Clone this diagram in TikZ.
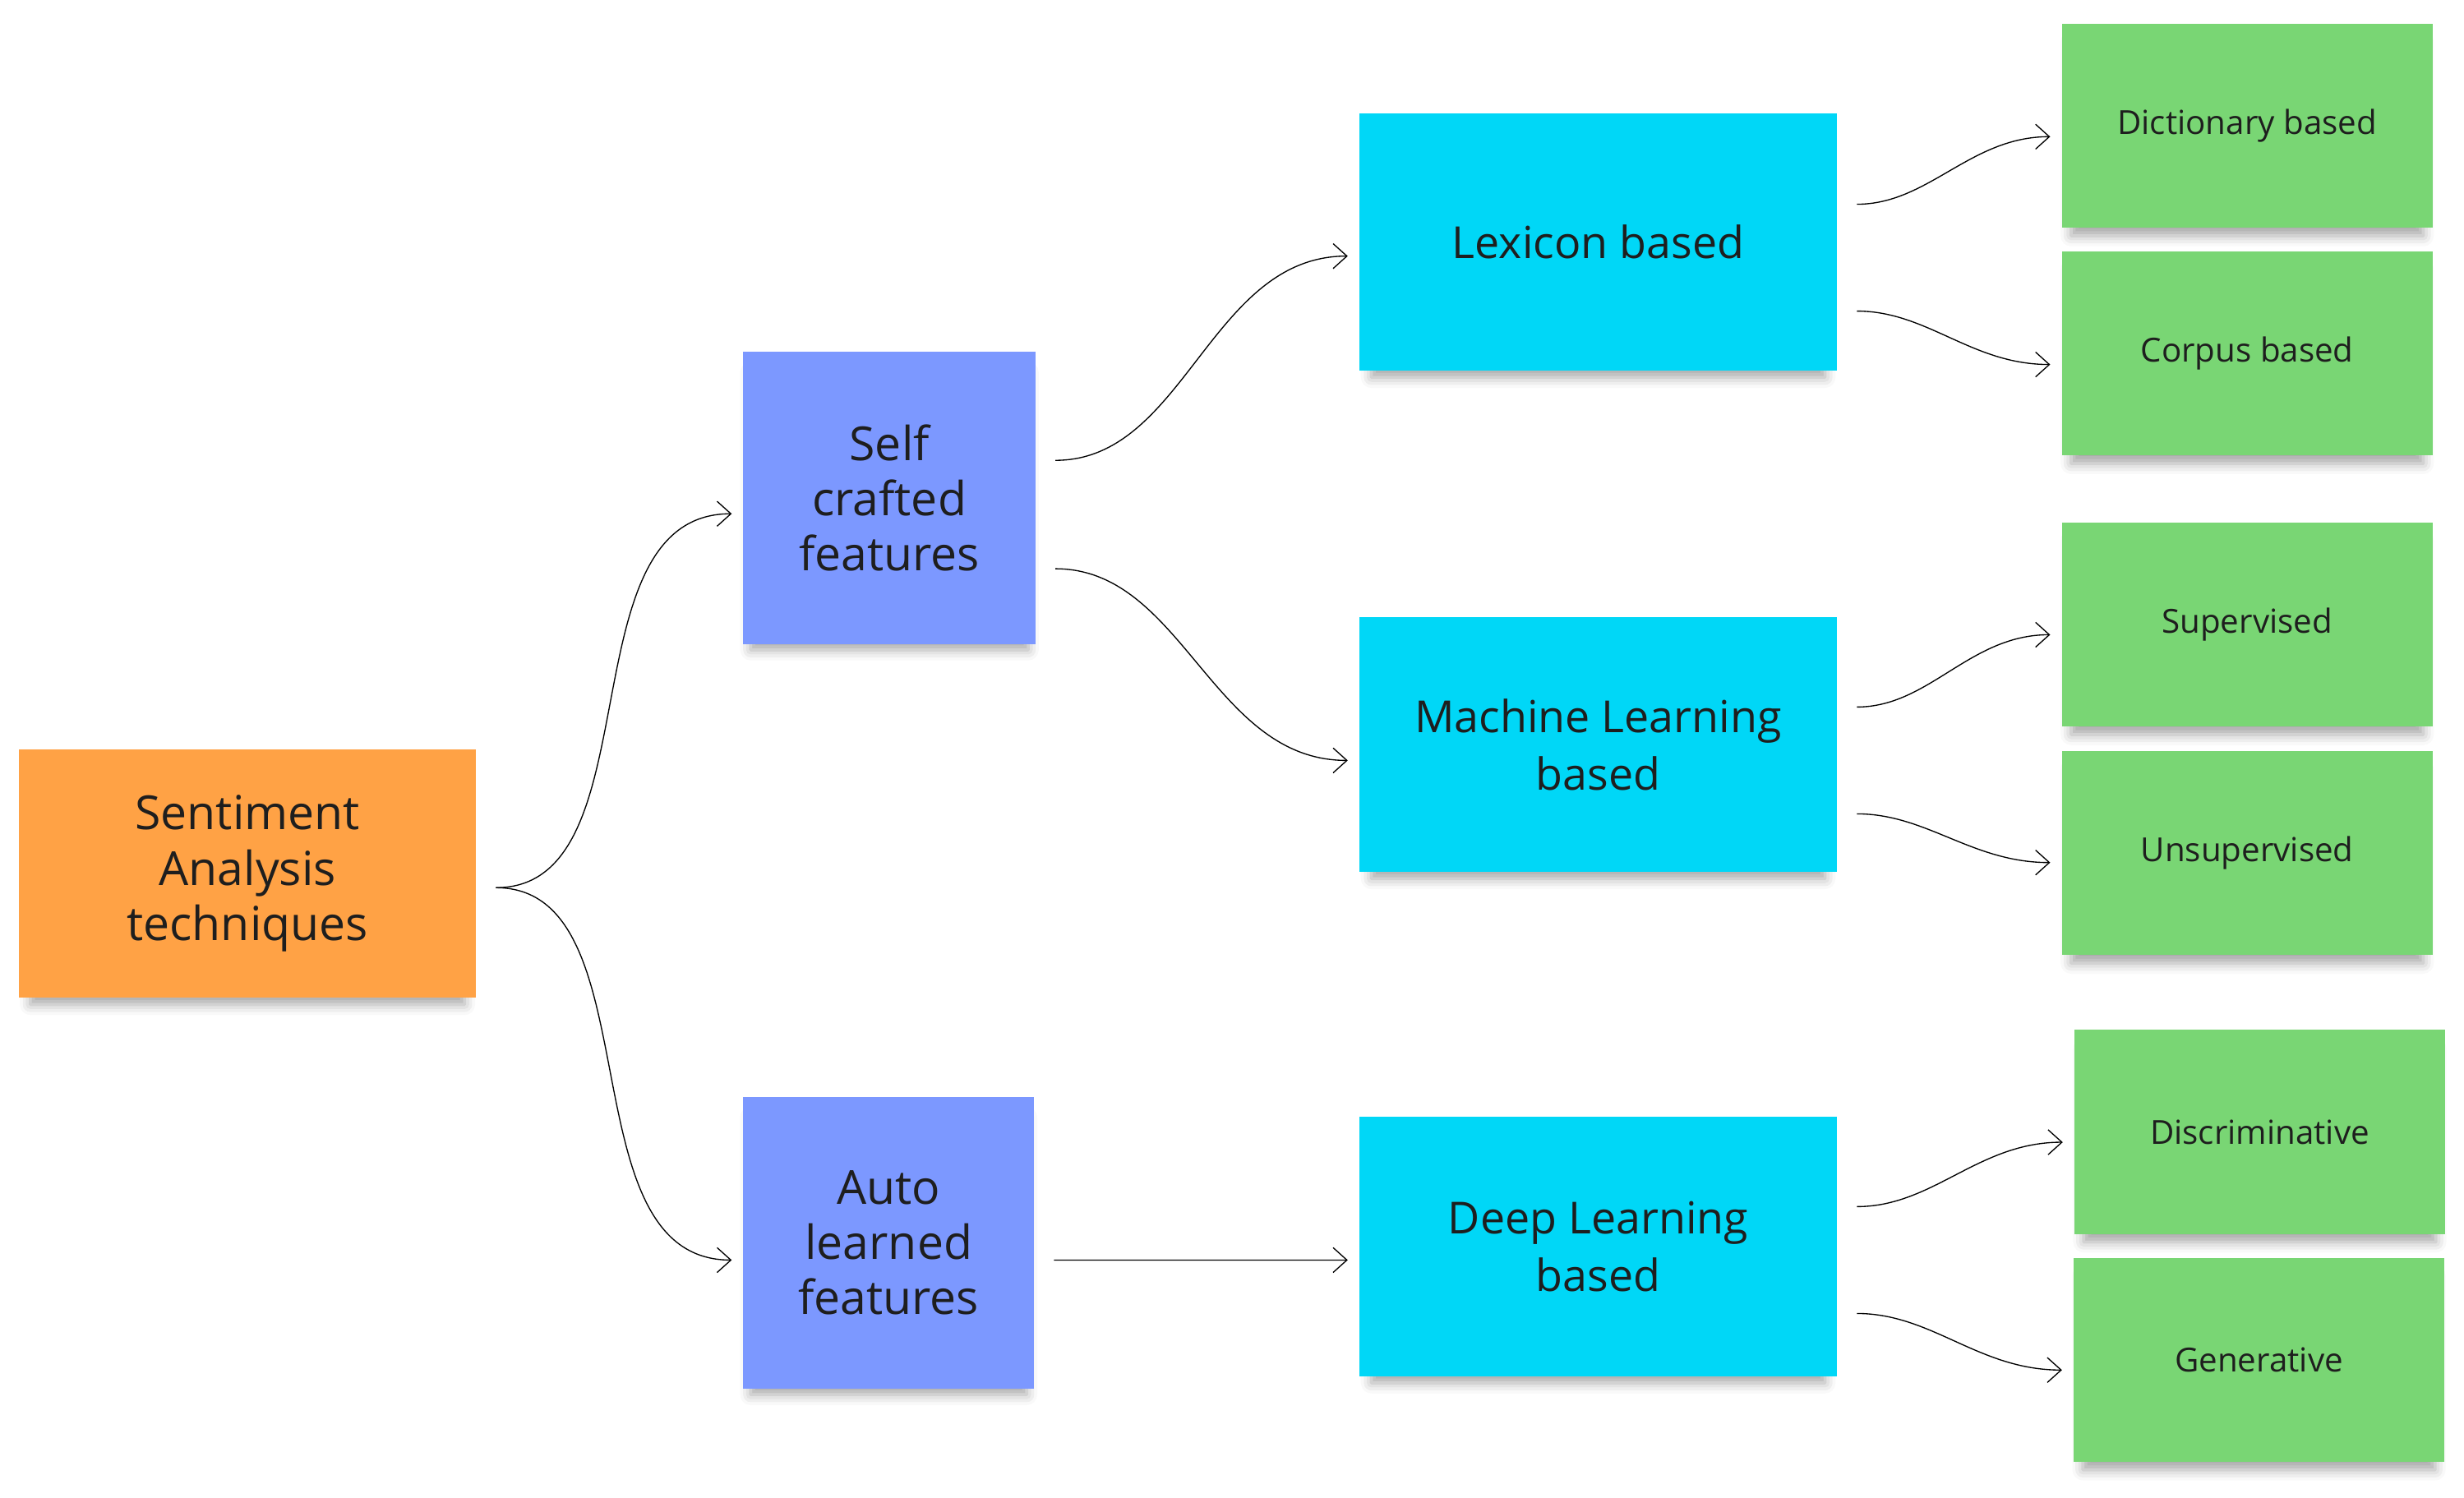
\documentclass[tikz,border=0pt]{standalone}
\usepackage{fontspec}
\setmainfont{Open Sans}
\usetikzlibrary{shadows.blur,arrows.meta}
\definecolor{org}{HTML}{FFA245}
\definecolor{vio}{HTML}{7C98FF}
\definecolor{cya}{HTML}{00D7F7}
\definecolor{grn}{HTML}{79D674}
\definecolor{txt}{HTML}{1E1E1E}
\begin{document}
\begin{tikzpicture}[x=0.02cm,y=-0.02cm,
 box/.style={inner sep=0pt,align=center,text=txt,blur shadow={shadow xshift=0pt,shadow yshift=-5pt,shadow blur radius=4pt,shadow opacity=35,shadow scale=0.95}},
 big/.style={box,font=\fontsize{17}{20}\selectfont},
 mid/.style={box,font=\fontsize{16}{21}\selectfont},
 sm/.style={box,fill=grn,minimum width=4.72cm,minimum height=2.6cm,font=\fontsize{12}{14}\selectfont},
 conn/.style={-{Straight Barb[length=5pt,width=9pt]},thin,black,shorten <=7pt,shorten >=4pt}]
\useasboundingbox (0,0) rectangle (1568,953);
\node[big,fill=org,minimum width=5.82cm,minimum height=3.16cm] (o) at (157.5,556) {Sentiment\\Analysis\\techniques};
\node[big,fill=vio,minimum width=3.72cm,minimum height=3.72cm] (s) at (566,317) {Self\\crafted\\features};
\node[big,fill=vio,minimum width=3.70cm,minimum height=3.72cm] (a) at (565.5,791) {Auto\\learned\\features};
\node[mid,fill=cya,minimum width=6.08cm,minimum height=3.28cm] (l) at (1017,154) {Lexicon based};
\node[mid,fill=cya,minimum width=6.08cm,minimum height=3.24cm] (m) at (1017,474) {Machine Learning\\based};
\node[mid,fill=cya,minimum width=6.08cm,minimum height=3.30cm] (d) at (1017,793.5) {Deep Learning\\based};
\node[sm] (g1) at (1430,80) {Dictionary based};
\node[sm] (g2) at (1430,225) {Corpus based};
\node[sm] (g3) at (1430,397.5) {Supervised};
\node[sm] (g4) at (1430,543) {Unsupervised};
\node[sm] (g5) at (1438,720.5) {Discriminative};
\node[sm] (g6) at (1437.5,865.5) {Generative};
\draw[conn] ([yshift=-9*0.02cm]o.east) to[out=0,in=180] ([yshift=-10*0.02cm]s.west);
\draw[conn] ([yshift=-9*0.02cm]o.east) to[out=0,in=180] ([yshift=-11*0.02cm]a.west);
\draw[conn] ([yshift=24*0.02cm]s.east) to[out=0,in=180] ([yshift=-9*0.02cm]l.west);
\draw[conn] ([yshift=-45*0.02cm]s.east) to[out=0,in=180] ([yshift=-10*0.02cm]m.west);
\draw[conn] ([yshift=-11*0.02cm]a.east) -- ([yshift=-8.5*0.02cm]d.west);
\draw[conn] ([yshift=24*0.02cm]l.east) to[out=0,in=180] ([yshift=-7*0.02cm]g1.west);
\draw[conn] ([yshift=-44*0.02cm]l.east) to[out=0,in=180] ([yshift=-7*0.02cm]g2.west);
\draw[conn] ([yshift=24*0.02cm]m.east) to[out=0,in=180] ([yshift=-6.5*0.02cm]g3.west);
\draw[conn] ([yshift=-44*0.02cm]m.east) to[out=0,in=180] ([yshift=-6*0.02cm]g4.west);
\draw[conn] ([yshift=25.5*0.02cm]d.east) to[out=0,in=180] ([yshift=-6.5*0.02cm]g5.west);
\draw[conn] ([yshift=-42.5*0.02cm]d.east) to[out=0,in=180] ([yshift=-6.5*0.02cm]g6.west);
\end{tikzpicture}
\end{document}
